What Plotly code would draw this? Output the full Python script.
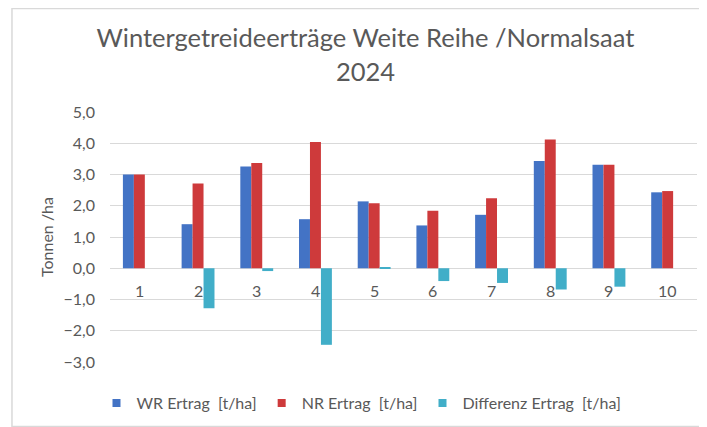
import plotly.graph_objects as go

categories = ["1", "2", "3", "4", "5", "6", "7", "8", "9", "10"]
wr_ertrag = [3.00, 1.41, 3.26, 1.57, 2.14, 1.37, 1.71, 3.43, 3.31, 2.43]
nr_ertrag = [3.00, 2.71, 3.37, 4.04, 2.08, 1.84, 2.24, 4.12, 3.31, 2.47]
differenz = [0.00, -1.28, -0.09, -2.45, 0.04, -0.41, -0.47, -0.68, -0.59, 0.00]
y_ticks = [-3, -2, -1, 0, 1, 2, 3, 4, 5]

names = ["WR Ertrag\u00a0 [t/ha]", "NR Ertrag\u00a0 [t/ha]", "Differenz Ertrag\u00a0 [t/ha]"]
colors = ["#4373C5", "#CE3A3B", "#41AEC8"]
series = [wr_ertrag, nr_ertrag, differenz]

FONT = "Lato"
GREY = "#595959"

fig = go.Figure()
for name, col, vals in zip(names, colors, series):
    fig.add_trace(go.Bar(x=categories, y=vals, name=name, marker_color=col,
                         marker_line_width=0, showlegend=False))
for name, col in zip(names, colors):
    fig.add_trace(go.Scatter(x=[categories[0]], y=[None], mode="markers", name=name,
                             marker=dict(symbol="square", size=8, color=col)))

for i, c in enumerate(categories):
    fig.add_annotation(x=i, y=0, text=c, showarrow=False, yanchor="middle",
                       yshift=-22, font=dict(family=FONT, size=16, color=GREY))

# outer chart frame
fig.add_shape(type="rect", xref="paper", yref="paper",
              x0=-0.167, x1=1.011, y0=-0.258, y1=1.414,
              line=dict(color="#D9D9D9", width=1.5), layer="below")

fig.update_layout(
    width=699, height=419,
    margin=dict(l=102, r=10, t=104, b=65, autoexpand=False),
    paper_bgcolor="white", plot_bgcolor="white",
    separators=",.",
    barmode="group", bargap=0.44, bargroupgap=0,
    title=dict(text="Wintergetreideerträge Weite Reihe /Normalsaat<br>2024",
               x=0.5114, xref="container", xanchor="center",
               y=0.906, yref="container", yanchor="middle",
               font=dict(family=FONT, size=25.5, color=GREY)),
    xaxis=dict(type="category", categoryorder="array", categoryarray=categories,
               range=[-0.5, 9.5], showticklabels=False, showgrid=False,
               zeroline=False, showline=False),
    yaxis=dict(range=[-3, 5], tickvals=y_ticks, tickformat=".1f",
               showgrid=True, gridcolor="#D9D9D9", gridwidth=1,
               zeroline=True, zerolinecolor="#D9D9D9", zerolinewidth=1,
               ticks="", ticklabelstandoff=14,
               tickfont=dict(family=FONT, size=16, color=GREY),
               title=dict(text="Tonnen /ha", standoff=5,
                          font=dict(family=FONT, size=16, color=GREY))),
    legend=dict(orientation="h", x=-0.023, xanchor="left", y=-0.164,
                yanchor="middle", font=dict(family=FONT, size=16, color=GREY),
                itemwidth=30, bgcolor="rgba(0,0,0,0)"),
)

fig.write_html("out.html")
